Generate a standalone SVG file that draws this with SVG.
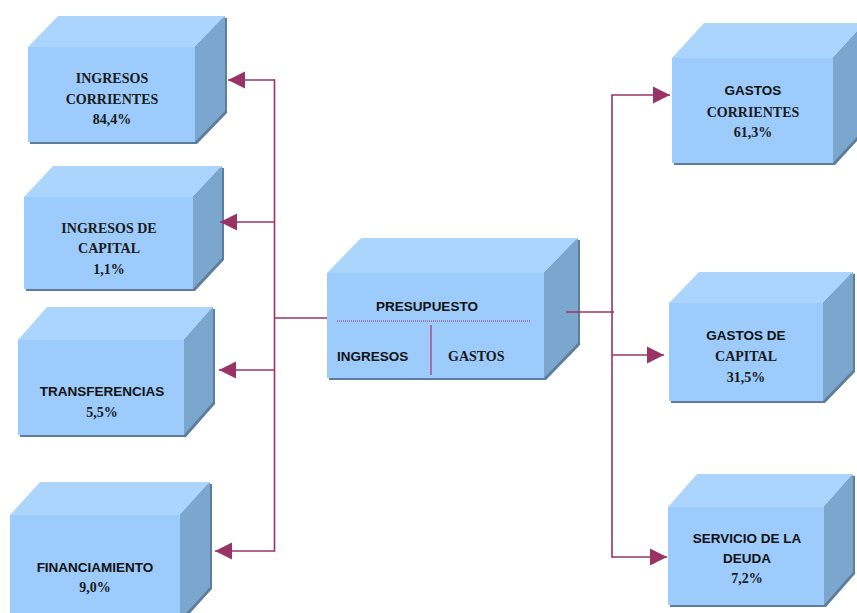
<svg xmlns="http://www.w3.org/2000/svg" width="857" height="613" viewBox="0 0 857 613">
<style>
.front{fill:#9ccbfc}
.top{fill:#acd5fd}
.side{fill:#7ba6cd}
.shadow{fill:#5e7d9c}
.ser{font-family:"Liberation Serif","Times New Roman",serif;font-weight:bold;font-size:14px;fill:#1a1a1a;text-anchor:middle}
.sans{font-family:"Liberation Sans",Arial,sans-serif;font-weight:bold;font-size:13.5px;fill:#111;text-anchor:middle}
.conn{stroke:#993366;stroke-width:1.6;fill:none}
</style>
<defs>
<marker id="arr" markerUnits="userSpaceOnUse" viewBox="0 0 10 10" refX="10" refY="5" markerWidth="17" markerHeight="18" orient="auto">
<path d="M0,0 L10,5 L0,10 z" fill="#993366"/>
</marker>
</defs>
<rect width="857" height="613" fill="#ffffff"/>

<g id="ingresos-corrientes">
<polygon class="shadow" transform="translate(2,2)" points="28,142 28,47 58,16 225,16 225,111 195,142"/>
<rect class="front" x="28" y="47" width="167" height="95"/>
<polygon class="top" points="28,47 58,16 225,16 195,47"/>
<polygon class="side" points="195,47 225,16 225,111 195,142"/>
<text class="ser" x="112" y="83">INGRESOS</text>
<text class="ser" x="112" y="104">CORRIENTES</text>
<text class="ser" x="112" y="124">84,4%</text>
</g>

<g id="ingresos-capital">
<polygon class="shadow" transform="translate(2,2)" points="24,289 24,197 53,166 222,166 222,258 193,289"/>
<rect class="front" x="24" y="197" width="169" height="92"/>
<polygon class="top" points="24,197 53,166 222,166 193,197"/>
<polygon class="side" points="193,197 222,166 222,258 193,289"/>
<text class="ser" x="109" y="233">INGRESOS DE</text>
<text class="ser" x="109" y="253">CAPITAL</text>
<text class="ser" x="109" y="274">1,1%</text>
</g>

<g id="transferencias">
<polygon class="shadow" transform="translate(2,2)" points="18,435 18,340 47,307 213,307 213,402 184,435"/>
<rect class="front" x="18" y="340" width="166" height="95"/>
<polygon class="top" points="18,340 47,307 213,307 184,340"/>
<polygon class="side" points="184,340 213,307 213,402 184,435"/>
<text class="sans" x="102" y="396">TRANSFERENCIAS</text>
<text class="ser" x="102" y="417">5,5%</text>
</g>

<g id="financiamiento">
<polygon class="shadow" transform="translate(2,2)" points="10,620 10,515 40,482 210,482 210,587 180,620"/>
<rect class="front" x="10" y="515" width="170" height="105"/>
<polygon class="top" points="10,515 40,482 210,482 180,515"/>
<polygon class="side" points="180,515 210,482 210,587 180,620"/>
<text class="sans" x="95" y="572">FINANCIAMIENTO</text>
<text class="ser" x="95" y="592">9,0%</text>
</g>

<g id="presupuesto">
<polygon class="shadow" transform="translate(2,2)" points="327,378 327,273 361,238 578,238 578,343 544,378"/>
<rect class="front" x="327" y="273" width="217" height="105"/>
<polygon class="top" points="327,273 361,238 578,238 544,273"/>
<polygon class="side" points="544,273 578,238 578,343 544,378"/>
<text class="sans" x="427" y="311">PRESUPUESTO</text>
<line x1="337" y1="321" x2="531" y2="321" stroke="#993366" stroke-width="1" stroke-dasharray="1,1"/>
<line x1="431" y1="325" x2="431" y2="375" stroke="#b8325e" stroke-width="1.2"/>
<text class="sans" x="337" y="361" style="text-anchor:start">INGRESOS</text>
<text class="ser" x="448" y="361" style="text-anchor:start">GASTOS</text>
</g>

<g id="gastos-corrientes">
<polygon class="shadow" transform="translate(2,2)" points="672,163 672,58 704,23 865,23 865,128 833,163"/>
<rect class="front" x="672" y="58" width="161" height="105"/>
<polygon class="top" points="672,58 704,23 865,23 833,58"/>
<polygon class="side" points="833,58 865,23 865,128 833,163"/>
<text class="sans" x="753" y="95">GASTOS</text>
<text class="ser" x="753" y="117">CORRIENTES</text>
<text class="ser" x="753" y="137">61,3%</text>
</g>

<g id="gastos-capital">
<polygon class="shadow" transform="translate(2,2)" points="669,401 669,303 699,272 853,272 853,370 823,401"/>
<rect class="front" x="669" y="303" width="154" height="98"/>
<polygon class="top" points="669,303 699,272 853,272 823,303"/>
<polygon class="side" points="823,303 853,272 853,370 823,401"/>
<text class="sans" x="746" y="340">GASTOS DE</text>
<text class="ser" x="746" y="361">CAPITAL</text>
<text class="ser" x="746" y="382">31,5%</text>
</g>

<g id="servicio-deuda">
<polygon class="shadow" transform="translate(2,2)" points="668,605 668,507 697,474 853,474 853,572 824,605"/>
<rect class="front" x="668" y="507" width="156" height="98"/>
<polygon class="top" points="668,507 697,474 853,474 824,507"/>
<polygon class="side" points="824,507 853,474 853,572 824,605"/>
<text class="sans" x="747" y="543">SERVICIO DE LA</text>
<text class="sans" x="747" y="563">DEUDA</text>
<text class="ser" x="747" y="583">7,2%</text>
</g>

<g id="connectors">
<line class="conn" x1="274.5" y1="79.2" x2="274.5" y2="551.8"/>
<line class="conn" x1="274.5" y1="80" x2="228" y2="80" marker-end="url(#arr)"/>
<line class="conn" x1="274.5" y1="222" x2="220" y2="222" marker-end="url(#arr)"/>
<line class="conn" x1="274.5" y1="370" x2="219" y2="370" marker-end="url(#arr)"/>
<line class="conn" x1="274.5" y1="551" x2="215" y2="551" marker-end="url(#arr)"/>
<line class="conn" x1="274.5" y1="318" x2="327" y2="318"/>
<line class="conn" x1="612" y1="94.2" x2="612" y2="557.8"/>
<line class="conn" x1="566" y1="312" x2="614" y2="312"/>
<line class="conn" x1="612" y1="95" x2="670" y2="95" marker-end="url(#arr)"/>
<line class="conn" x1="612" y1="355" x2="664" y2="355" marker-end="url(#arr)"/>
<line class="conn" x1="612" y1="557" x2="667" y2="557" marker-end="url(#arr)"/>
</g>
</svg>
